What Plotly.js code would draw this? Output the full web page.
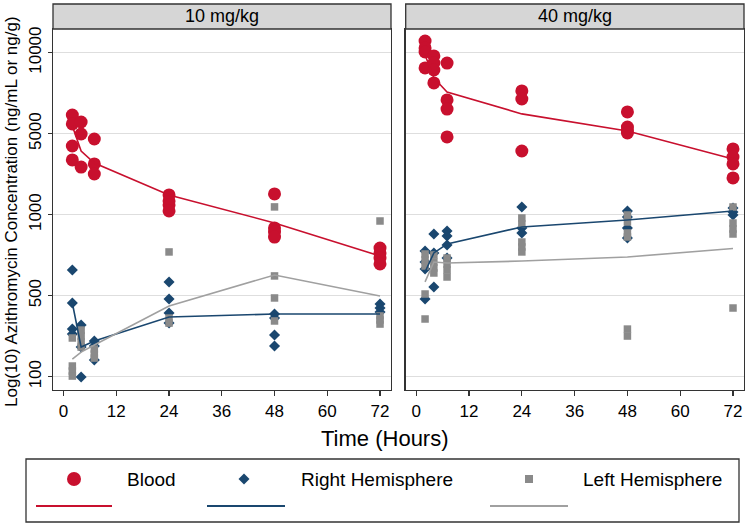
<!DOCTYPE html>
<html><head><meta charset="utf-8">
<script src="https://cdn.plot.ly/plotly-3.0.1.min.js"></script>
<style>html,body{margin:0;padding:0;background:#fff}#chart{width:749px;height:529px}</style>
</head><body><div id="chart"></div>
<script>
// Sampling times (hours)
const times = [2, 4, 7, 24, 48, 72];
// Axis-unit values (log10 concentration as plotted), grouped by time point
const blood10 = [[3.615,3.560,3.424,3.338],[3.572,3.498,3.294],[3.467,3.313,3.251],[3.122,3.085,3.060,3.023],[3.128,2.918,2.893,2.862],[2.794,2.764,2.733,2.696]];
const right10 = [[2.659,2.455,2.294,2.264],[2.319,2.183,1.998],[2.220,2.190,2.103],[2.585,2.480,2.393,2.331],[2.387,2.362,2.257,2.190],[2.449,2.424,2.399]];
const left10  = [[2.239,2.066,2.035,2.004],[2.288,2.251,2.214,2.183],[2.171,2.140,2.115],[2.770,2.362,2.331],[3.048,2.622,2.486,2.344],[2.961,2.375,2.350,2.325]];
const blood10Line = [3.547,3.393,3.319,3.122,2.949,2.745];
const right10Line = [2.455,2.183,2.220,2.369,2.387,2.387];
const left10Line  = [2.109,2.152,2.196,2.436,2.628,2.498];

const blood40 = [[4.072,4.029,4.004,3.906],[3.980,3.936,3.893,3.813],[3.936,3.708,3.652,3.480],[3.764,3.714,3.393],[3.634,3.541,3.523,3.504],[3.406,3.356,3.313,3.227]];
const right40 = [[2.776,2.708,2.665,2.480],[2.881,2.764,2.554],[2.899,2.869,2.813,2.733],[3.048,2.918,2.887],[3.023,2.986,2.918,2.856],[3.041,3.017,2.998]];
const left40  = [[2.757,2.720,2.683,2.510,2.356],[2.751,2.708,2.671,2.640],[2.733,2.696,2.659,2.615],[2.980,2.943,2.831,2.801,2.770],[2.998,2.955,2.887,2.862,2.294,2.251],[3.048,2.949,2.912,2.881,2.424]];
const blood40Line = [3.986,3.844,3.757,3.622,3.517,3.344];
const right40Line = [2.646,2.764,2.819,2.924,2.967,3.023];
const left40Line  = [2.585,2.708,2.702,2.714,2.739,2.791];

const panelTitles = ['10 mg/kg', '40 mg/kg'];
const seriesNames = ['Blood', 'Right Hemisphere', 'Left Hemisphere'];
const xTicks = [0, 12, 24, 36, 48, 60, 72];
const yTickVals = [2, 2.5, 3, 3.5, 4];
const yTickText = ['100', '500', '1000', '5000', '10000'];

const RED = '#C8102E', BLUE = '#1A476F', GRAYM = '#8A8A8A', GRAYL = '#A0A0A0';
const FONT = 'Arial, "Liberation Sans", sans-serif';
const W = 749, H = 529;
const px = v => v / W, py = v => 1 - v / H;

function flat(groups) {
  const x = [], y = [];
  groups.forEach((g, i) => g.forEach(v => { x.push(times[i]); y.push(v); }));
  return {x, y};
}

const panels = [
  {xa: 'x', ya: 'y', data: [blood10, right10, left10], lines: [blood10Line, right10Line, left10Line]},
  {xa: 'x2', ya: 'y2', data: [blood40, right40, left40], lines: [blood40Line, right40Line, left40Line]}
];
const markerStyles = [
  {symbol: 'circle', size: 13, color: RED},
  {symbol: 'diamond', size: 8.5, color: BLUE},
  {symbol: 'square', size: 7.5, color: GRAYM}
];
const lineColors = [RED, BLUE, GRAYL];

const traces = [];
panels.forEach(p => {
  p.data.forEach((g, k) => {
    const f = flat(g);
    traces.push({type: 'scatter', mode: 'markers', x: f.x, y: f.y, xaxis: p.xa, yaxis: p.ya,
      name: seriesNames[k], showlegend: false, marker: Object.assign({line: {width: 0}}, markerStyles[k])});
  });
  p.lines.forEach((l, k) => {
    traces.push({type: 'scatter', mode: 'lines', x: times, y: l, xaxis: p.xa, yaxis: p.ya,
      name: seriesNames[k], showlegend: false, line: {color: lineColors[k], width: 1.6}});
  });
});

const plotTop = 29, plotBot = 390;
const xDom1 = [px(53), px(391)], xDom2 = [px(405.7), px(744)];
const yDom = [py(plotBot), py(plotTop)];
const xRange = [-2.4, 74.5], yRange = [1.918, 4.146];
const AX = '#333333';

const xaxisBase = {range: xRange, tickvals: xTicks, ticks: 'outside', ticklen: 5, tickwidth: 1.3, tickcolor: AX,
  showline: true, mirror: true, linecolor: AX, linewidth: 1.3, showgrid: false, zeroline: false,
  tickfont: {size: 17, color: '#000', family: FONT}};
const yaxisBase = {range: yRange, tickvals: yTickVals, ticktext: yTickText, showline: true, mirror: true,
  linecolor: AX, linewidth: 1.3, showgrid: true, gridcolor: '#DEDEDE', gridwidth: 1.5, zeroline: false,
  tickfont: {size: 17, color: '#000', family: FONT}};

const shapes = [];
const annotations = [];
// strips
[xDom1, xDom2].forEach((d, i) => {
  shapes.push({type: 'rect', xref: 'paper', yref: 'paper', x0: d[0], x1: d[1], y0: py(plotTop), y1: py(4),
    fillcolor: '#D6D6D6', line: {color: AX, width: 1.3}});
  annotations.push({xref: 'paper', yref: 'paper', x: (d[0] + d[1]) / 2, y: py(16.5), text: panelTitles[i],
    showarrow: false, xanchor: 'center', yanchor: 'middle', font: {size: 18, color: '#000', family: FONT}});
});
// axis titles
annotations.push({xref: 'paper', yref: 'paper', x: px(384.5), y: py(438), text: 'Time (Hours)', showarrow: false,
  xanchor: 'center', yanchor: 'middle', font: {size: 22, color: '#000', family: FONT}});
annotations.push({xref: 'paper', yref: 'paper', x: px(11), y: py(212), text: 'Log(10) Azithromycin Concentration (ng/mL or ng/g)',
  textangle: -90, showarrow: false, xanchor: 'center', yanchor: 'middle', font: {size: 17, color: '#000', family: FONT}});

// legend (drawn as decorations)
shapes.push({type: 'rect', xref: 'paper', yref: 'paper', x0: px(26), x1: px(739), y0: py(522), y1: py(459),
  line: {color: AX, width: 1.3}, fillcolor: 'rgba(0,0,0,0)'});
const legItems = [
  {lx0: 36, lx1: 112, mx: 74, tx: 125},
  {lx0: 207, lx1: 285, mx: 244, tx: 299},
  {lx0: 490, lx1: 568, mx: 529, tx: 581}
];
const rowY = 479, lineY = 506;
legItems.forEach((it, k) => {
  shapes.push({type: 'line', xref: 'paper', yref: 'paper', x0: px(it.lx0), x1: px(it.lx1), y0: py(lineY), y1: py(lineY),
    line: {color: lineColors[k], width: 2}});
  if (k === 0) {
    shapes.push({type: 'circle', xref: 'paper', yref: 'paper', xsizemode: 'pixel', ysizemode: 'pixel',
      xanchor: px(it.mx), yanchor: py(rowY), x0: -7, x1: 7, y0: -7, y1: 7,
      fillcolor: RED, line: {width: 0}});
  } else {
    const path = k === 1 ? 'M -5.5 0 L 0 -5.5 L 5.5 0 L 0 5.5 Z' : 'M -4 -4 L 4 -4 L 4 4 L -4 4 Z';
    shapes.push({type: 'path', xref: 'paper', yref: 'paper', xsizemode: 'pixel', ysizemode: 'pixel',
      xanchor: px(it.mx), yanchor: py(rowY), path: path, fillcolor: markerStyles[k].color, line: {width: 0}});
  }
  annotations.push({xref: 'paper', yref: 'paper', x: px(it.tx), y: py(rowY), text: seriesNames[k], showarrow: false,
    xanchor: 'left', yanchor: 'middle', font: {size: 19, color: '#000', family: FONT}});
});

const layout = {
  width: W, height: H, margin: {l: 0, r: 0, t: 0, b: 0},
  paper_bgcolor: '#fff', plot_bgcolor: '#fff', showlegend: false,
  font: {family: FONT, color: '#000'},
  xaxis: Object.assign({}, xaxisBase, {domain: xDom1, anchor: 'y'}),
  xaxis2: Object.assign({}, xaxisBase, {domain: xDom2, anchor: 'y2'}),
  yaxis: Object.assign({}, yaxisBase, {domain: yDom, anchor: 'x', ticks: 'outside', ticklen: 4, tickwidth: 1.3, tickcolor: AX, tickangle: -90}),
  yaxis2: Object.assign({}, yaxisBase, {domain: yDom, anchor: 'x2', ticks: '', showticklabels: false}),
  shapes: shapes, annotations: annotations
};

Plotly.newPlot('chart', traces, layout, {staticPlot: true, displayModeBar: false});
</script>
</body></html>
